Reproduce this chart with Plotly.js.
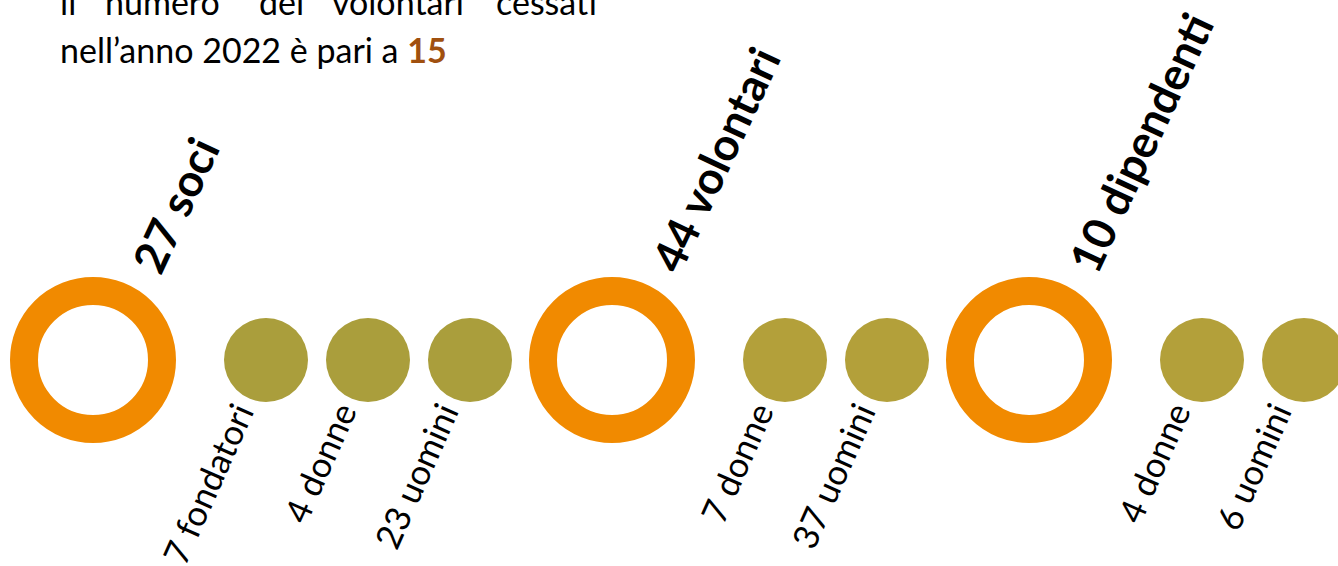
<!DOCTYPE html>
<html>
<head>
<meta charset="utf-8">
<script src="https://cdn.plot.ly/plotly-3.0.1.min.js"></script>
<style>
  html, body { margin: 0; padding: 0; background: #ffffff; overflow: hidden; }
  #chart { width: 1338px; height: 566px; }
</style>
</head>
<body>
<div id="chart"></div>
<script>
// ---------------- DATA ----------------
const groups = ['soci', 'volontari', 'dipendenti'];
const groupTotals = [27, 44, 10];
const subLabels = [['fondatori', 'donne', 'uomini'], ['donne', 'uomini'], ['donne', 'uomini']];
const subValues = [[7, 4, 23], [7, 37], [4, 6]];
const introWords = ['il', 'numero', 'dei', 'volontari', 'cessati'];
const introLine2 = 'nell’anno 2022 è pari a';
const ceasedVolunteers = 15;

// ---------------- STYLE / LAYOUT CONSTANTS ----------------
const W = 1338, H = 566;
const baseY = 360;                 // pixel row of the circles
const firstRingX = 93;
const ringToDot = 173, dotStep = 102, dotToRing = 142;
const ringColor = '#F18A00';
const dotColors = ['#AA9E3C', '#B3A03A', '#B3A03A'];
const FONT = 'Lato, "Open Sans", sans-serif';
const introWordX = [58, 103, 257, 330, 494];

// helper: pixel-from-top -> y data value (y=0 at circle row, up positive)
const py = p => baseY - p;

// compute positions
const ringX = [], dotX = [], dotCol = [];
let cx = firstRingX;
groups.forEach((g, gi) => {
  ringX.push(cx);
  let d = cx + ringToDot;
  subValues[gi].forEach((v, si) => {
    dotX.push(d); dotCol.push(dotColors[gi]);
    if (si < subValues[gi].length - 1) d += dotStep;
  });
  cx = d + dotToRing;
});

const traces = [
  {
    type: 'scatter', mode: 'markers',
    x: ringX, y: ringX.map(() => 0),
    marker: { symbol: 'circle', size: 138, color: 'rgba(0,0,0,0)', line: { color: ringColor, width: 28 } },
    hoverinfo: 'skip', showlegend: false
  },
  {
    type: 'scatter', mode: 'markers',
    x: dotX, y: dotX.map(() => 0),
    marker: { symbol: 'circle', size: 84, color: dotCol, line: { width: 0 } },
    hoverinfo: 'skip', showlegend: false
  }
];

const annotations = [];
// group headline labels
groups.forEach((g, gi) => {
  annotations.push({
    x: ringX[gi] + 25, y: py(283), xref: 'x', yref: 'y',
    text: '<b>' + groupTotals[gi] + ' ' + g + '</b>',
    showarrow: false, textangle: -65, xanchor: 'left', yanchor: 'bottom',
    font: { family: FONT, size: 45, color: '#000000' }
  });
});
// sub labels
let k = 0;
subValues.forEach((vals, gi) => {
  vals.forEach((v, si) => {
    annotations.push({
      x: dotX[k] - 2, y: py(394), xref: 'x', yref: 'y',
      text: v + ' ' + subLabels[gi][si],
      showarrow: false, textangle: -66, xanchor: 'right', yanchor: 'top',
      font: { family: FONT, size: 35, color: '#000000' }
    });
    k++;
  });
});
// intro paragraph
introWords.forEach((w, i) => {
  annotations.push({
    x: introWordX[i], y: py(24), xref: 'x', yref: 'y',
    text: w, showarrow: false, xanchor: 'left', yanchor: 'bottom',
    font: { family: FONT, size: 34, color: '#000000' }
  });
});
annotations.push({
  x: 58, y: py(72), xref: 'x', yref: 'y',
  text: introLine2 + ' <b><span style="color:#A0500F">' + ceasedVolunteers + '</span></b>',
  showarrow: false, xanchor: 'left', yanchor: 'bottom',
  font: { family: FONT, size: 34, color: '#000000' }
});

const layout = {
  width: W, height: H,
  margin: { l: 0, r: 0, t: 0, b: 0 },
  paper_bgcolor: '#ffffff', plot_bgcolor: '#ffffff',
  xaxis: { range: [0, W], visible: false, fixedrange: true },
  yaxis: { range: [baseY - H, baseY], visible: false, fixedrange: true },
  annotations: annotations,
  showlegend: false
};

Plotly.newPlot('chart', traces, layout, { displayModeBar: false, staticPlot: true });
</script>
</body>
</html>
